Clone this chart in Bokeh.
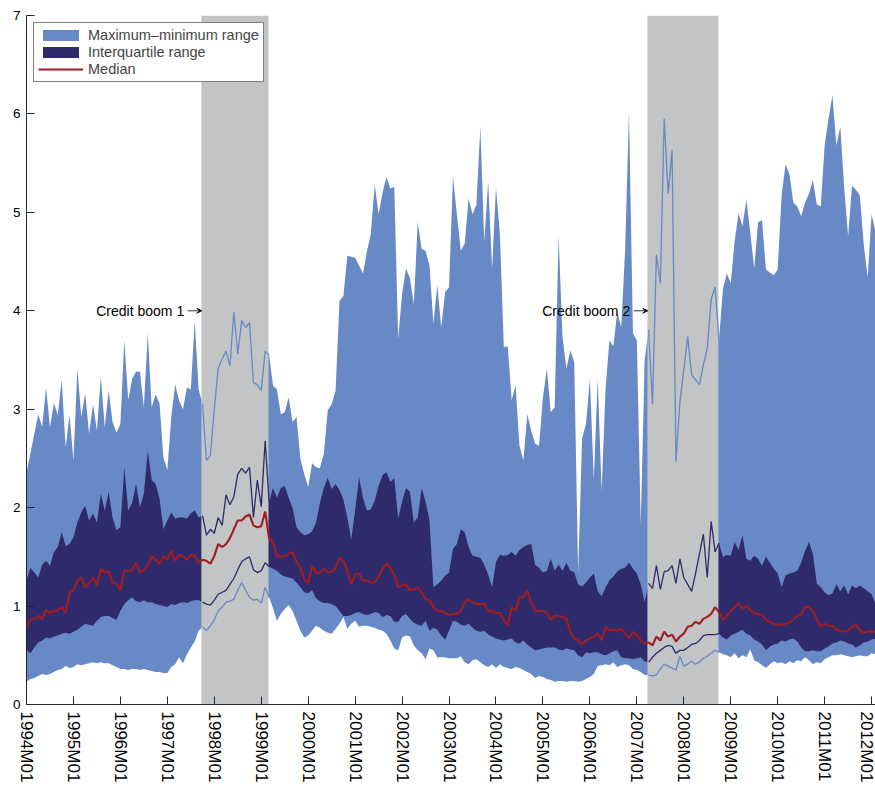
import math
from bokeh.plotting import figure
from bokeh.models import Range1d, FixedTicker, Legend, LegendItem, Label, Arrow, VeeHead
from bokeh.embed import file_html
from bokeh.resources import INLINE

# ---------------- data ----------------
START_YEAR = 1994
N_MONTHS = 218  # 1994M01 .. 2012M02
months = [f"{START_YEAR + k // 12}M{k % 12 + 1:02d}" for k in range(N_MONTHS)]

tick_labels = ["1994M01", "1995M01", "1996M01", "1997M01", "1998M01", "1999M01",
               "2000M01", "2001M01", "2002M01", "2003M01", "2004M01", "2005M01",
               "2006M01", "2007M01", "2008M01", "2009M01", "2010M01", "2011M01",
               "2012M01"]

booms = [("1997M10", "1999M03", "Credit boom 1"),
         ("2007M04", "2008M10", "Credit boom 2")]

maximum = [
    2.35, 2.55, 2.75, 2.95, 2.82, 3.22, 2.82, 3.06, 2.94, 3.30,
    2.61, 2.94, 2.48, 3.41, 2.92, 3.16, 2.75, 3.05, 2.78, 3.33,
    2.82, 3.19, 2.87, 2.76, 2.85, 3.70, 3.09, 3.31, 3.38, 3.38,
    3.02, 3.77, 3.02, 3.15, 3.06, 2.51, 2.38, 2.92, 3.25, 3.09,
    3.00, 3.22, 3.20, 3.89, 3.20,
    3.05, 2.48, 2.53, 3.00, 3.42, 3.51, 3.59, 3.44, 3.99, 3.56,
    3.90, 3.83, 3.88, 3.27, 3.25, 3.19, 3.59, 3.55,
    3.24, 3.20, 2.95, 2.97, 3.12, 2.87, 2.92, 2.50,
    2.34, 2.21, 2.45, 2.41, 2.40, 2.55, 2.99, 3.05, 3.19,
    4.10, 4.15, 4.56, 4.55, 4.54, 4.46, 4.38, 4.60, 4.78, 5.28,
    4.98, 5.20, 5.36, 5.24, 5.26, 3.71, 4.17, 4.43, 4.33, 4.07,
    4.90, 4.63, 4.61, 4.46, 3.87, 4.26, 3.83, 4.19, 4.24, 5.36,
    4.98, 4.61, 4.68, 5.14, 4.98, 5.08, 5.87, 4.70, 5.31, 4.43,
    5.25, 4.78, 3.63, 3.64, 3.09, 3.24, 2.63, 2.48, 2.95, 2.78,
    2.65, 2.63, 3.12, 3.41, 2.97, 3.02, 4.76, 3.73, 3.41, 3.60,
    3.48, 1.33, 2.70, 2.85, 3.31, 2.28, 3.31, 2.17, 3.20, 3.70,
    3.64, 3.99, 3.83, 4.61, 6.03, 3.77, 3.70, 1.83, 3.50,
    3.81, 3.05, 4.57, 4.28, 5.95, 5.19, 5.63, 2.47, 3.07, 3.40,
    3.74, 3.35, 3.30, 3.25, 3.45, 3.62, 4.12, 4.24, 3.70,
    4.22, 4.38, 4.28, 4.71, 4.99, 4.86, 5.13, 4.79, 4.43, 4.90,
    4.92, 4.42, 4.39, 4.36, 4.42, 5.17, 5.49, 5.39, 5.10, 5.06,
    4.96, 5.10, 5.19, 5.33, 5.08, 5.06, 5.68, 5.95, 6.19, 5.68,
    5.87, 5.25, 4.76, 5.27, 5.23, 5.17, 4.67, 4.34, 4.98, 4.80,
]

upper_quartile = [
    1.26, 1.39, 1.34, 1.29, 1.42, 1.46, 1.41, 1.55, 1.60, 1.75,
    1.61, 1.63, 1.70, 1.85, 1.95, 2.02, 1.87, 1.94, 1.85, 2.14,
    1.97, 2.16, 1.90, 1.77, 1.80, 2.41, 1.97, 2.05, 2.24, 2.00,
    2.14, 2.58, 2.28, 2.24, 2.09, 1.78, 1.87, 1.95, 1.89, 1.90,
    1.90, 1.89, 1.94, 1.97, 1.90,
    1.92, 1.72, 1.78, 1.74, 1.90, 1.82, 2.13, 2.03, 2.11, 2.34,
    2.40, 2.35, 2.41, 1.90, 2.28, 2.01, 2.68, 2.06,
    2.20, 2.10, 2.20, 2.22, 2.10, 2.00, 1.80, 1.75, 1.72, 1.73,
    1.76, 1.85, 2.05, 2.20, 2.30, 2.19, 2.24, 2.18, 2.08, 1.90,
    1.68, 1.97, 2.31, 2.10, 1.97, 1.98, 2.07, 2.22, 2.33, 2.36,
    2.26, 2.30, 1.89, 2.06, 2.20, 2.16, 1.85, 1.90, 2.20, 2.06,
    1.87, 1.19, 1.22, 1.26, 1.31, 1.34, 1.58, 1.63, 1.78, 1.75,
    1.60, 1.51, 1.50, 1.49, 1.42, 1.32, 1.19, 1.45, 1.52, 1.51,
    1.52, 1.55, 1.51, 1.57, 1.60, 1.62, 1.63, 1.42, 1.39, 1.34,
    1.36, 1.48, 1.36, 1.42, 1.36, 1.44, 1.36, 1.34, 1.22, 1.20,
    1.24, 1.29, 1.33, 1.15, 1.10, 1.19, 1.26, 1.30, 1.35, 1.38,
    1.39, 1.44, 1.38, 1.33, 1.22, 1.04,
    1.23, 1.18, 1.41, 1.17, 1.35, 1.36, 1.41, 1.23, 1.48, 1.29,
    1.22, 1.15, 1.33, 1.53, 1.73, 1.29, 1.86, 1.55, 1.64,
    1.50, 1.52, 1.51, 1.65, 1.57, 1.72, 1.48, 1.46, 1.51, 1.48,
    1.41, 1.50, 1.44, 1.38, 1.33, 1.19, 1.31, 1.33, 1.34, 1.36,
    1.44, 1.56, 1.65, 1.53, 1.23, 1.19, 1.14, 1.11, 1.13, 1.22,
    1.15, 1.21, 1.12, 1.21, 1.18, 1.21, 1.18, 1.15, 1.12, 1.02,
]

median = [
    0.79, 0.86, 0.87, 0.90, 0.87, 0.96, 0.93, 0.95, 0.96, 0.99,
    0.93, 1.14, 1.16, 1.26, 1.29, 1.19, 1.23, 1.29, 1.21, 1.38,
    1.34, 1.35, 1.24, 1.23, 1.16, 1.36, 1.36, 1.36, 1.44, 1.34,
    1.36, 1.41, 1.51, 1.47, 1.43, 1.51, 1.47, 1.56, 1.46, 1.52,
    1.51, 1.47, 1.52, 1.51, 1.44,
    1.47, 1.46, 1.43, 1.51, 1.63, 1.60, 1.63, 1.69, 1.78, 1.87,
    1.87, 1.91, 1.93, 1.82, 1.80, 1.81, 1.96, 1.69,
    1.65, 1.51, 1.50, 1.51, 1.53, 1.55, 1.45, 1.39, 1.27, 1.23,
    1.41, 1.34, 1.34, 1.38, 1.34, 1.35, 1.39, 1.49, 1.46, 1.36,
    1.22, 1.32, 1.33, 1.26, 1.26, 1.24, 1.24, 1.30, 1.38, 1.43,
    1.39, 1.31, 1.19, 1.21, 1.22, 1.16, 1.17, 1.19, 1.14, 1.07,
    1.06, 0.99, 0.95, 0.95, 0.93, 0.91, 0.92, 0.92, 0.95, 1.04,
    1.07, 1.04, 1.02, 1.02, 1.02, 0.95, 0.95, 0.93, 0.93, 0.86,
    0.80, 0.99, 0.95, 1.09, 1.09, 1.16, 1.03, 0.95, 0.95, 0.95,
    0.93, 0.86, 0.90, 0.90, 0.89, 0.87, 0.74, 0.67, 0.65, 0.61,
    0.65, 0.67, 0.69, 0.72, 0.65, 0.79, 0.75, 0.76, 0.75, 0.77,
    0.72, 0.67, 0.74, 0.70, 0.65, 0.62,
    0.63, 0.60, 0.69, 0.65, 0.74, 0.69, 0.71, 0.64, 0.69, 0.72,
    0.79, 0.80, 0.84, 0.82, 0.87, 0.89, 0.92, 0.99, 0.94,
    0.86, 0.90, 0.95, 0.99, 1.03, 0.97, 1.00, 0.96, 0.93, 0.92,
    0.91, 0.86, 0.84, 0.82, 0.81, 0.81, 0.82, 0.83, 0.86, 0.90,
    0.92, 0.99, 0.99, 0.95, 0.86, 0.79, 0.82, 0.80, 0.80, 0.76,
    0.75, 0.74, 0.75, 0.79, 0.81, 0.75, 0.73, 0.74, 0.74, 0.74,
]

lower_quartile = [
    0.55, 0.52, 0.58, 0.63, 0.65, 0.68, 0.67, 0.69, 0.70, 0.72,
    0.73, 0.72, 0.74, 0.76, 0.79, 0.82, 0.81, 0.80, 0.85, 0.89,
    0.90, 0.90, 0.88, 0.86, 0.95, 1.02, 1.06, 1.09, 1.05, 1.04,
    1.06, 1.04, 1.04, 1.02, 1.01, 1.00, 0.99, 1.02, 1.01, 1.03,
    1.04, 1.03, 1.05, 1.06, 1.06,
    1.04, 1.02, 1.01, 1.06, 1.12, 1.14, 1.16, 1.22, 1.28, 1.37,
    1.45, 1.48, 1.50, 1.37, 1.34, 1.36, 1.44, 1.40,
    1.38, 1.36, 1.32, 1.30, 1.29, 1.28, 1.24, 1.19, 1.14, 1.13,
    1.16, 1.08, 1.05, 1.03, 1.03, 1.02, 1.00, 0.95, 0.90, 0.90,
    0.91, 0.93, 0.94, 0.92, 0.91, 0.92, 0.94, 0.93, 0.89, 0.91,
    0.90, 0.84, 0.84, 0.90, 0.92, 0.87, 0.83, 0.81, 0.80, 0.85,
    0.75, 0.78, 0.76, 0.70, 0.66, 0.75, 0.85, 0.84, 0.81, 0.80,
    0.82, 0.78, 0.75, 0.74, 0.75, 0.71, 0.69, 0.67, 0.66, 0.65,
    0.66, 0.67, 0.63, 0.62, 0.65, 0.61, 0.58, 0.55, 0.56, 0.57,
    0.58, 0.58, 0.58, 0.56, 0.55, 0.57, 0.56, 0.55, 0.50, 0.48,
    0.53, 0.52, 0.53, 0.53, 0.51, 0.50, 0.52, 0.54, 0.55, 0.48,
    0.47, 0.47, 0.46, 0.47, 0.48, 0.44,
    0.43, 0.48, 0.52, 0.55, 0.58, 0.60, 0.59, 0.52, 0.55, 0.55,
    0.58, 0.61, 0.62, 0.65, 0.70, 0.71, 0.71, 0.71, 0.72,
    0.68, 0.66, 0.70, 0.72, 0.74, 0.76, 0.72, 0.70, 0.66, 0.64,
    0.61, 0.55, 0.59, 0.61, 0.62, 0.65, 0.64, 0.66, 0.67, 0.64,
    0.58, 0.54, 0.54, 0.55, 0.54, 0.54, 0.57, 0.59, 0.62, 0.63,
    0.65, 0.64, 0.62, 0.61, 0.58, 0.60, 0.63, 0.64, 0.66, 0.67,
]

minimum = [
    0.23, 0.26, 0.27, 0.29, 0.31, 0.30, 0.31, 0.33, 0.35, 0.36,
    0.39, 0.37, 0.38, 0.41, 0.40, 0.41, 0.42, 0.43, 0.42, 0.43,
    0.42, 0.42, 0.40, 0.38, 0.36, 0.36, 0.35, 0.36, 0.36, 0.35,
    0.36, 0.35, 0.34, 0.33, 0.33, 0.32, 0.32, 0.38, 0.41, 0.48,
    0.42, 0.51, 0.58, 0.64, 0.75,
    0.79, 0.75, 0.80, 0.86, 0.95, 0.99, 1.04, 1.05, 1.07, 1.16,
    1.24, 1.16, 1.09, 1.06, 1.07, 1.03, 1.19, 1.09,
    0.98, 0.85, 0.92, 0.97, 1.01, 0.95, 0.85, 0.75, 0.68, 0.70,
    0.75, 0.80, 0.78, 0.75, 0.73, 0.72, 0.77, 0.82, 0.89, 0.77,
    0.82, 0.85, 0.79, 0.80, 0.80, 0.79, 0.78, 0.76, 0.75, 0.72,
    0.65, 0.57, 0.55, 0.68, 0.70, 0.69, 0.60, 0.55, 0.52, 0.46,
    0.57, 0.55, 0.48, 0.48, 0.48, 0.47, 0.47, 0.47, 0.49, 0.43,
    0.41, 0.45, 0.46, 0.43, 0.40, 0.38, 0.41, 0.37, 0.41, 0.38,
    0.37, 0.36, 0.38, 0.37, 0.35, 0.33, 0.31, 0.27, 0.29, 0.28,
    0.26, 0.25, 0.23, 0.24, 0.24, 0.23, 0.24, 0.24, 0.23, 0.24,
    0.26, 0.28, 0.31, 0.39, 0.40, 0.41, 0.40, 0.43, 0.38, 0.40,
    0.41, 0.40, 0.36, 0.35, 0.33, 0.30,
    0.30, 0.29, 0.30, 0.36, 0.41, 0.39, 0.37, 0.35, 0.49, 0.39,
    0.41, 0.44, 0.41, 0.43, 0.47, 0.49, 0.52, 0.55, 0.53,
    0.51, 0.50, 0.48, 0.52, 0.47, 0.50, 0.48, 0.56, 0.45, 0.43,
    0.40, 0.37, 0.41, 0.44, 0.42, 0.43, 0.41, 0.44, 0.42, 0.45,
    0.44, 0.48, 0.45, 0.41, 0.43, 0.42, 0.46, 0.48, 0.50, 0.50,
    0.51, 0.50, 0.49, 0.48, 0.49, 0.50, 0.49, 0.49, 0.52, 0.51,
]

for name, arr in [("maximum", maximum), ("upper_quartile", upper_quartile),
                  ("median", median), ("lower_quartile", lower_quartile),
                  ("minimum", minimum)]:
    if len(arr) != N_MONTHS:
        raise ValueError(f"{name} has {len(arr)} values")

# ---------------- style ----------------
LIGHT = "#6789C6"
DARK = "#2F2A6B"
GREY = "#C3C4C6"
RED = "#9E1C22"
AXIS = "#1E2433"
FONT = "Liberation Sans"

x = list(range(N_MONTHS))

p = figure(width=875, height=786, output_backend="svg", toolbar_location=None,
           x_range=Range1d(0, N_MONTHS - 1), y_range=Range1d(0, 7),
           min_border_left=26, min_border_right=0, min_border_top=15,
           min_border_bottom=82)
p.outline_line_color = None
p.grid.visible = False
p.background_fill_color = "white"

r_range = p.varea(x=x, y1=minimum, y2=maximum, fill_color=LIGHT)
r_iqr = p.varea(x=x, y1=lower_quartile, y2=upper_quartile, fill_color=DARK)

for s_lab, e_lab, _ in booms:
    s, e = months.index(s_lab), months.index(e_lab)
    p.quad(left=[s - 0.3], right=[e - 0.15], bottom=[0], top=[7],
           fill_color=GREY, line_color=None)

for s_lab, e_lab, _ in booms:
    s, e = months.index(s_lab), months.index(e_lab)
    xs = x[s:e + 1]
    p.line(xs, maximum[s:e + 1], line_color=LIGHT, line_width=1.3)
    p.line(xs, minimum[s:e + 1], line_color=LIGHT, line_width=1.3)
    p.line(xs, upper_quartile[s:e + 1], line_color=DARK, line_width=1.3)
    p.line(xs, lower_quartile[s:e + 1], line_color=DARK, line_width=1.3)

r_med = p.line(x, median, line_color=RED, line_width=2.1)

# "Credit boom" annotations with arrows pointing at the shaded periods
for s_lab, e_lab, txt in booms:
    s = months.index(s_lab)
    p.add_layout(Arrow(x_start=s - 3.8, y_start=4, x_end=s - 0.2, y_end=4,
                       line_color="black", line_width=0.8,
                       end=VeeHead(size=5, line_color="black", line_width=0.8,
                                   fill_color="black")))
    p.add_layout(Label(x=s - 4.7, y=4, text=txt, text_align="right",
                       text_baseline="middle", text_font=FONT,
                       text_font_size="14px", text_color="black"))

# axes
p.xaxis.ticker = FixedTicker(ticks=[months.index(t) for t in tick_labels])
p.xaxis.major_label_overrides = {months.index(t): t for t in tick_labels}
p.xaxis.major_label_orientation = -math.pi / 2
p.xaxis.major_label_text_font = FONT
p.xaxis.major_label_text_font_size = "17px"
p.xaxis.major_label_standoff = 7
p.yaxis.ticker = FixedTicker(ticks=list(range(0, 8)))
p.yaxis.major_label_text_font = FONT
p.yaxis.major_label_text_font_size = "13.5px"
p.yaxis.major_label_standoff = 6
for ax in (p.xaxis, p.yaxis):
    ax.axis_line_color = AXIS
    ax.axis_line_width = 1
    ax.major_tick_line_color = AXIS
    ax.major_tick_in = 8
    ax.major_tick_out = 0
    ax.minor_tick_line_color = None
    ax.major_label_text_color = "black"

legend = Legend(items=[LegendItem(label="Maximum\u2013minimum range", renderers=[r_range]),
                       LegendItem(label="Interquartile range", renderers=[r_iqr]),
                       LegendItem(label="Median", renderers=[r_med])],
                location="top_left")
legend.margin = 7
legend.padding = 4
legend.spacing = 1
legend.glyph_width = 45
legend.glyph_height = 14
legend.label_height = 14
legend.label_standoff = 5
legend.label_text_font = FONT
legend.label_text_font_size = "14.5px"
legend.border_line_color = "black"
legend.border_line_width = 1
legend.background_fill_alpha = 1
p.add_layout(legend)

open("out.html", "w").write(file_html(p, INLINE))
